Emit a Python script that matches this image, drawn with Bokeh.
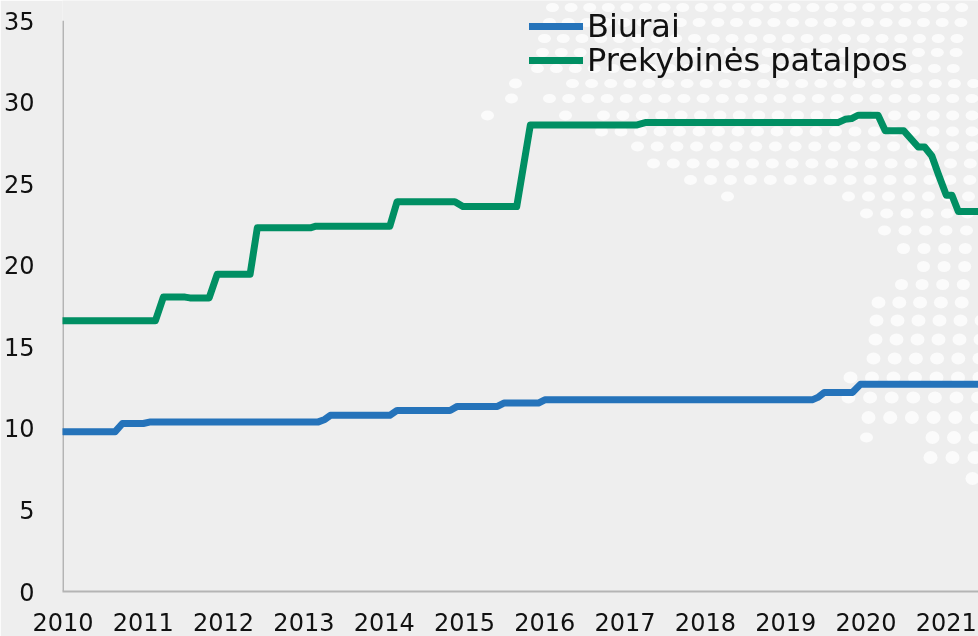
from bokeh.plotting import figure
from bokeh.embed import file_html
from bokeh.resources import INLINE
from bokeh.models import FixedTicker, Legend, LegendItem

# --- series (year, value) ---
biurai_x = [2010, 2010.65, 2010.74, 2011.0, 2011.09, 2013.18, 2013.26, 2013.33, 2014.07, 2014.16,
            2014.82, 2014.91, 2015.41, 2015.49, 2015.92, 2016.0, 2019.33, 2019.40, 2019.48,
            2019.83, 2019.93, 2021.4]
biurai_y = [9.8, 9.8, 10.3, 10.3, 10.4, 10.4, 10.55, 10.8, 10.8, 11.1,
            11.1, 11.35, 11.35, 11.55, 11.55, 11.75, 11.75, 11.9, 12.2,
            12.2, 12.7, 12.7]
prek_x = [2010, 2011.15, 2011.25, 2011.52, 2011.58, 2011.82, 2011.92, 2012.33, 2012.42, 2013.08, 2013.15,
          2014.07, 2014.16, 2014.88, 2014.98, 2015.65, 2015.82, 2017.14, 2017.25, 2019.65, 2019.74,
          2019.82, 2019.90, 2020.15, 2020.24, 2020.47, 2020.65, 2020.73, 2020.82, 2020.90, 2021.0,
          2021.07, 2021.15, 2021.4]
prek_y = [16.6, 16.6, 18.05, 18.05, 18.0, 18.0, 19.45, 19.45, 22.3, 22.3, 22.4,
          22.4, 23.9, 23.9, 23.6, 23.6, 28.6, 28.6, 28.75, 28.75, 28.95,
          29.0, 29.2, 29.2, 28.25, 28.25, 27.25, 27.25, 26.7, 25.6, 24.3,
          24.3, 23.3, 23.3]
x_ticks = list(range(2010, 2022))
y_ticks = list(range(0, 36, 5))
names = ["Biurai", "Prekybinės patalpos"]

# --- decorative dotted map: rows of (row height, first x, step, count, dot w, dot h), picture pixels ---
dot_rows = [
    (7, 552, 18.6, 23, 13, 9), (22, 549, 18.7, 23, 13, 9), (38, 544, 18.75, 23, 13, 9),
    (52, 542, 18.8, 23, 13, 9), (68, 537, 18.9, 23, 13, 9), (83, 572, 19.1, 22, 13, 9),
    (98, 549, 19.2, 23, 13, 9), (115, 603, 19.4, 20, 13, 10), (131, 601, 19.5, 20, 13, 10),
    (146, 637, 19.7, 18, 13, 10), (163, 653, 19.8, 17, 13, 10), (179.5, 690, 19.95, 15, 13, 10),
    (196, 848, 20, 7, 13, 10), (213, 866, 20.2, 6, 13, 10), (230, 884, 20.5, 5, 13, 10),
    (248, 903, 20.6, 4, 13, 11), (266, 923, 20.6, 3, 13, 11), (284, 901, 20.6, 4, 13, 11),
    (302, 878, 20.8, 5, 14, 12), (320, 876, 21, 6, 14, 12), (339, 875, 21, 6, 14, 12),
    (358, 873, 21.2, 6, 14, 12), (377, 850, 21.5, 7, 14, 12), (397, 848, 21.6, 7, 14, 12),
    (417, 868, 21.7, 6, 14, 13), (437, 932, 21.5, 3, 14, 13), (457, 930, 22, 3, 14, 13),
    (478, 972, 20, 1, 14, 13),
]
dot_singles = [(83, 515), (98, 511), (115, 487), (115, 565), (196, 727), (437, 866)]

X0, PX_YEAR, Y0, PX_UNIT = 62.5, 80.3, 591, 16.31
to_year = lambda px: 2010 + (px - X0) / PX_YEAR
to_val = lambda py: (Y0 - py) / PX_UNIT

dx, dy, dw, dh = [], [], [], []
for (ry, x0, st, n, w, h) in dot_rows:
    for i in range(n):
        dx.append(to_year(x0 + st * i)); dy.append(to_val(ry)); dw.append(w); dh.append(h)
for (ry, x0) in dot_singles:
    dx.append(to_year(x0)); dy.append(to_val(ry)); dw.append(13); dh.append(10)

BG = "#eeeeee"
AXIS = "#b4b4b4"
p = figure(frame_width=916, frame_height=591, x_range=(to_year(62), to_year(978)),
           y_range=(0, 591 / PX_UNIT),
           output_backend="svg", toolbar_location=None,
           min_border_left=62, min_border_right=0, min_border_top=0, min_border_bottom=45,
           background_fill_color=BG, border_fill_color=BG)
p.styles = {"position": "fixed", "left": "0", "top": "0"}
p.outline_line_color = None
p.grid.visible = False

p.ellipse(x=dx, y=dy, width=dw, height=dh, width_units="screen", height_units="screen",
          fill_color="#fbfbfb", line_color=None)

# the vertical axis line stops at the top tick, while the dots run on above it
p.line([x_ticks[0], x_ticks[0]], [y_ticks[0], y_ticks[-1]], line_color=AXIS, line_width=2)

r1 = p.line(biurai_x, biurai_y, line_color="#2573BA", line_width=7, line_cap="round", line_join="round")
r2 = p.line(prek_x, prek_y, line_color="#008F63", line_width=7, line_cap="round", line_join="round")

for ax in (p.xaxis[0], p.yaxis[0]):
    ax.axis_line_color = AXIS
    ax.axis_line_width = 2
    ax.major_tick_line_color = None
    ax.minor_tick_line_color = None
    ax.major_label_text_font = "DejaVu Sans"
    ax.major_label_text_font_size = "24px"
    ax.major_label_text_color = "#111111"
p.yaxis[0].axis_line_color = None
p.xaxis[0].ticker = FixedTicker(ticks=x_ticks)
p.yaxis[0].ticker = FixedTicker(ticks=y_ticks)
p.xaxis[0].major_label_standoff = 15
p.yaxis[0].major_label_standoff = 22

for nm, rend, ybottom in ((names[0], r1, 546.5), (names[1], r2, 512.5)):
    p.add_layout(Legend(items=[LegendItem(label=nm, renderers=[rend])],
                        location=(467, ybottom), background_fill_alpha=0, border_line_color=None,
                        glyph_width=54, glyph_height=28, label_text_font="DejaVu Sans",
                        label_text_font_size="32px", label_text_color="#111111",
                        label_standoff=4, spacing=0, padding=0, margin=0), "center")

open("out.html", "w").write(file_html(p, INLINE))
